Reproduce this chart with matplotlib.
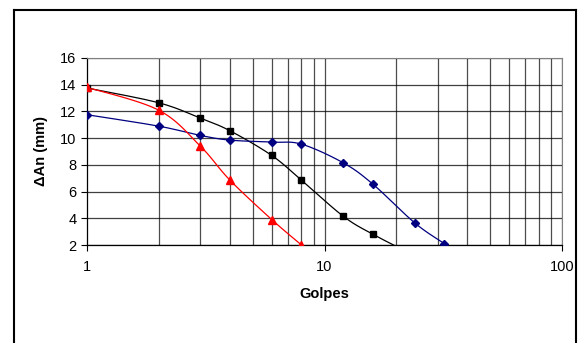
import numpy as np
import matplotlib
matplotlib.use('Agg')
import matplotlib.pyplot as plt
from matplotlib.lines import Line2D

plt.rcParams['font.family'] = ['Liberation Sans', 'DejaVu Sans']

# Datos
golpes_negro = [1, 2, 3, 4, 6, 8, 12, 16, 24]
an_negro = [13.75, 12.65, 11.5, 10.55, 8.7, 6.85, 4.15, 2.8, 1.2]

golpes_azul = [1, 2, 3, 4, 6, 8, 12, 16, 24, 32, 40]
an_azul = [11.75, 10.9, 10.2, 9.85, 9.7, 9.55, 8.15, 6.55, 3.65, 2.1, 1.0]

golpes_rojo = [1, 2, 3, 4, 6, 8]
an_rojo = [13.8, 12.1, 9.4, 6.85, 3.9, 2.0]

x_ticks = [1, 10, 100]
y_ticks = [2, 4, 6, 8, 10, 12, 14, 16]


def suavizar(x, y, n=20, tension=0.5):
    # Curva suavizada tipo Excel (Catmull-Rom) en coordenadas de pantalla aprox.
    sx = np.log10(np.asarray(x, float)) * 237.5
    sy = np.asarray(y, float) * 13.3
    pts = np.column_stack([sx, sy])
    pts = np.vstack([pts[0], pts, pts[-1]])
    out = []
    for i in range(1, len(pts) - 2):
        p0, p1, p2, p3 = pts[i - 1], pts[i], pts[i + 1], pts[i + 2]
        m1 = tension * (p2 - p0)
        m2 = tension * (p3 - p1)
        t = np.linspace(0, 1, n)[:, None]
        h00 = 2 * t**3 - 3 * t**2 + 1
        h10 = t**3 - 2 * t**2 + t
        h01 = -2 * t**3 + 3 * t**2
        h11 = t**3 - t**2
        out.append(h00 * p1 + h10 * m1 + h01 * p2 + h11 * m2)
    c = np.vstack(out)
    return 10 ** (c[:, 0] / 237.5), c[:, 1] / 13.3


fig = plt.figure(figsize=(5.79, 3.43), dpi=100)
ax = fig.add_axes([0.1503, 0.2857, 0.8203, 0.5453])

ax.set_xscale('log')
ax.set_xlim(1, 100)
ax.set_ylim(2, 16)

# cuadricula
for v in list(range(2, 10)) + list(range(10, 101, 10)):
    ax.axvline(v, color='black', lw=0.9, alpha=0.7, zorder=1)
for v in y_ticks:
    ax.axhline(v, color='black', lw=0.9, alpha=0.75, zorder=1)

series = [
    (golpes_negro, an_negro, 'black', 's', 4.5),
    (golpes_azul, an_azul, '#000080', 'D', 4.0),
    (golpes_rojo, an_rojo, 'red', '^', 5.5),
]
for gx, gy, col, mk, ms in series:
    sx, sy = suavizar(gx, gy)
    ax.plot(sx, sy, color=col, lw=0.9, zorder=3)
    ax.plot(gx, gy, ls='none', marker=mk, color=col, ms=ms, zorder=4)

ax.set_xticks(x_ticks)
ax.set_xticklabels(['1', '10', '100'])
ax.xaxis.set_minor_locator(matplotlib.ticker.NullLocator())
ax.set_yticks(y_ticks)
ax.tick_params(axis='both', labelsize=10.5, length=4, width=0.8, direction='out', color='black')
ax.tick_params(axis='x', pad=7)

for s in ['top', 'right']:
    ax.spines[s].set_color('#808080')
for s in ['left', 'bottom']:
    ax.spines[s].set_color('black')
    ax.spines[s].set_linewidth(0.9)

ax.set_xlabel('Golpes', fontsize=10.5, fontweight='bold', labelpad=9)
ax.set_ylabel('ΔAn (mm)', fontsize=10.5, fontweight='bold', labelpad=9)

# marco exterior
W, H = 579, 343
marco = [((13.5, 13.5), (0, H - 10)), ((13.5, 576), (H - 10, H - 10)), ((576, 576), (H - 10, 0))]
for xs, ys in marco:
    fig.add_artist(Line2D([v / W for v in xs], [v / H for v in ys], color='black', lw=1.5,
                          transform=fig.transFigure))

fig.savefig('out.png', dpi=100)
